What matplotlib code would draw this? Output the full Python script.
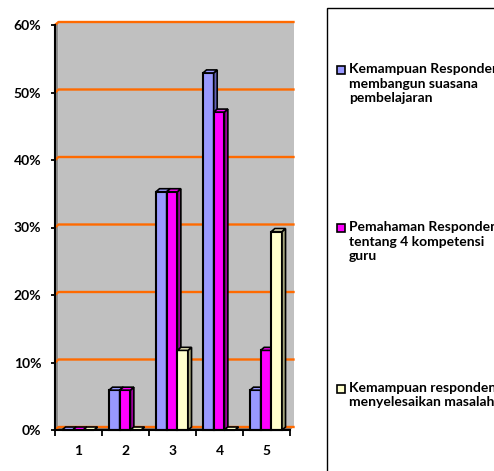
import matplotlib
matplotlib.use("Agg")
import matplotlib.pyplot as plt
from matplotlib.patches import Polygon, Rectangle
import numpy as np

categories = ["1", "2", "3", "4", "5"]
series_names = [
    "Kemampuan Responden\nmembangun suasana\npembelajaran",
    "Pemahaman Responden\ntentang 4 kompetensi\nguru",
    "Kemampuan responden\nmenyelesaikan masalah",
]
values = [
    [0.0, 5.9, 35.3, 52.9, 5.9],
    [0.0, 5.9, 35.3, 47.1, 11.8],
    [0.0, 0.0, 11.8, 0.0, 29.4],
]
face_colors = ["#9999FF", "#FF00FF", "#FFFFCC"]
side_colors = ["#6262B8", "#9A0099", "#A3A37A"]
yticks = [0, 10, 20, 30, 40, 50, 60]

plt.rcParams["font.family"] = ["Lato", "DejaVu Sans"]
plt.rcParams["font.weight"] = "bold"

W, H = 494, 471
fig = plt.figure(figsize=(W / 100, H / 100), dpi=100)
# axes in pixel box: x 55..290, y 430..25
ax = fig.add_axes([55 / W, (H - 430) / H, (290 - 55) / W, (430 - 25) / H])
ax.set_xlim(0.5, 5.5)
ax.set_ylim(0, 60)
ax.patch.set_visible(False)

# depth of the fake 3d in data units (about 3.5 px right, 3 px up)
dx = 3.5 * 5.0 / (290 - 55)
dy = 3.0 * 60.0 / (430 - 25)

# back wall, side wall and floor
ax.add_patch(Rectangle((0.5 + dx, dy), 5.0, 60, facecolor="#C0C0C0",
                       edgecolor="none", clip_on=False, zorder=0))
ax.add_patch(Polygon([(0.5, 0), (0.5 + dx, dy), (0.5 + dx, 60 + dy), (0.5, 60)],
                     facecolor="#8C8C8C", edgecolor="none", clip_on=False, zorder=0))
ax.add_patch(Polygon([(0.5, 0), (5.5, 0), (5.5 + dx, dy), (0.5 + dx, dy)],
                     facecolor="#7A7A7A", edgecolor="none", clip_on=False, zorder=0))
for t in yticks:
    ax.plot([0.5, 0.5 + dx, 5.5 + dx], [t, t + dy, t + dy], color="#FF6A00",
            lw=1.7, clip_on=False, zorder=1)

x = np.arange(1, len(categories) + 1)
w = 0.227
for i, (vals, fc, sc) in enumerate(zip(values, face_colors, side_colors)):
    xs = x + (i - 1) * w - 0.01
    bars = ax.bar(xs, vals, width=w, color=fc, edgecolor="black", linewidth=1.5,
                  zorder=3 + i, clip_on=False)
    for b in bars:
        x0, x1, h = b.get_x(), b.get_x() + b.get_width(), b.get_height()
        top = Polygon([(x0, h), (x0 + dx, h + dy), (x1 + dx, h + dy), (x1, h)],
                      facecolor=fc, edgecolor="black", linewidth=1.2,
                      clip_on=False, zorder=3 + i)
        side = Polygon([(x1, 0), (x1 + dx, dy), (x1 + dx, h + dy), (x1, h)],
                       facecolor=sc, edgecolor="black", linewidth=1.2,
                       clip_on=False, zorder=3 + i)
        ax.add_patch(side)
        ax.add_patch(top)

for s in ["top", "right"]:
    ax.spines[s].set_visible(False)
for s in ["left", "bottom"]:
    ax.spines[s].set_linewidth(1.5)
    ax.spines[s].set_zorder(10)

ax.set_yticks(yticks)
ax.set_yticklabels([f"{t}%" for t in yticks], fontsize=10, fontweight="bold")
ax.set_xticks(np.arange(0.5, 6, 1.0))
ax.set_xticklabels([])
ax.set_xticks(x, minor=True)
ax.set_xticklabels(categories, minor=True, fontsize=10, fontweight="bold")
ax.tick_params(axis="y", length=3, width=1.3, pad=7)
ax.tick_params(axis="x", which="major", length=4, width=1.3, direction="out")
ax.tick_params(axis="x", which="minor", length=0, pad=11)

# legend box, runs off the right and bottom edge
fig.patches.append(Rectangle((327 / W, -0.05), 0.5, 1.05 - 8 / H,
                             transform=fig.transFigure, facecolor="white",
                             edgecolor="black", linewidth=1.0))
legend_y = [70, 228, 389]
for name, fc, ly in zip(series_names, face_colors, legend_y):
    fig.patches.append(Rectangle((337 / W, 1 - (ly + 4) / H), 8 / W, 8 / H,
                                 transform=fig.transFigure, facecolor=fc,
                                 edgecolor="black", linewidth=1.2))
    fig.text(349 / W, 1 - (ly - 7) / H, name, fontsize=10, fontweight="bold",
             va="top", ha="left", linespacing=1.25)

fig.savefig("out.png", dpi=100)
